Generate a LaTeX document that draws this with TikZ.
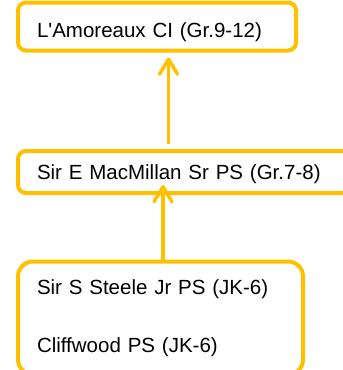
\documentclass[tikz,border=0pt]{standalone}
\usepackage{fontspec}
\setmainfont{Liberation Sans}
\usepackage{xcolor}
\usetikzlibrary{arrows.meta}
\definecolor{gold}{HTML}{FFC000}

\begin{document}
\begin{tikzpicture}[x=1pt,y=1pt]
\tikzstyle{every node}+=[inner sep=0pt, outer sep=0pt, font=\fontsize{20.5}{58}\selectfont]
\tikzstyle{school}=[draw=gold, line width=4pt, rounded corners=8pt, align=left, inner xsep=19pt]
\tikzstyle{feed}=[gold, line width=3.5pt, -{Straight Barb[length=15pt,width=18pt,line cap=round,line join=round]}]
\useasboundingbox (0,0) rectangle (343,-370);
\clip (0,0) rectangle (343,-370);
\node [school, text width=240pt, text height=22pt, text depth=0pt, minimum height=48pt] (ci) at (157,-26.5) {L\textquotesingle Amoreaux CI (Gr.9-12)};
\node [school, text width=294pt, text height=15pt, text depth=0pt, minimum height=42pt] (sr) at (184,-172) {Sir E MacMillan Sr PS (Gr.7-8)};
\node [school, rounded corners=15pt, text width=247pt, minimum height=113pt] (jr) at (160.5,-318) {Sir S Steele Jr PS (JK-6)\\Cliffwood PS (JK-6)};
\coordinate (up) at (168.5,0);
\coordinate (low) at (163,0);
\draw [feed, shorten <=7pt, shorten >=7pt] (sr.north -| up) -- (ci.south -| up);
\draw [feed, shorten >=-8pt] (jr.north -| low) -- (sr.south -| low);
\end{tikzpicture}
\end{document}
